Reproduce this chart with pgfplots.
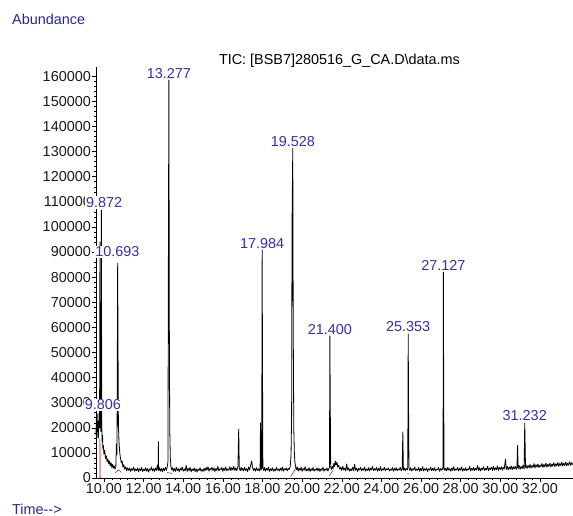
\documentclass[border=0pt]{standalone}
\usepackage{fontspec}
\setmainfont{Liberation Sans}
\usepackage{pgfplots}
\pgfplotsset{compat=1.18}
\definecolor{pk}{RGB}{50,50,165}
\definecolor{ab}{RGB}{40,40,140}
\newcommand{\ff}{\fontsize{14.4}{17}\selectfont}
\begin{document}
\begin{tikzpicture}[x=1pt,y=1pt]
\path[use as bounding box] (0,0) rectangle (573,516);
\node[anchor=west,text=ab,font=\ff,inner sep=0pt] at (12,497) {Abundance};
\node[anchor=west,text=ab,font=\ff,inner sep=0pt] at (12,7) {Time-{}-{}>};
\node[anchor=center,text=black,font=\ff,inner sep=0pt] at (339.5,455) {TIC: [BSB7]280516\_G\_CA.D\textbackslash data.ms};
\begin{axis}[
  at={(96pt,38pt)}, anchor=south west,
  scale only axis, width=477pt, height=411pt,
  xmin=9.6, xmax=33.667, ymin=0, ymax=163700,
  axis lines*=left,
  axis line style={black, line width=0.6pt},
  xtick={10,12,...,32}, minor x tick num=4,
  ytick={0,10000,...,160000}, minor y tick num=4,
  tick align=outside,
  major tick length=4pt, minor tick length=2pt,
  tick style={black, line width=0.5pt},
  scaled y ticks=false,
  yticklabel style={/pgf/number format/.cd, fixed, 1000 sep={}},
  xticklabel style={/pgf/number format/.cd, fixed, fixed zerofill, precision=2},
  /pgf/number format/assume math mode=true,
  ticklabel style={font=\ff, text=black!90, inner sep=1pt},
  clip=false,
]
\addplot[black, line width=0.8pt, line join=round] table {
9.60 17000
9.62 23500
9.64 15500
9.66 25500
9.68 18500
9.70 22500
9.72 16000
9.74 21500
9.76 26000
9.78 20000
9.80 94000
9.82 24000
9.84 18500
9.86 26000
9.872 106700
9.89 21000
9.91 14500
9.93 17000
9.95 11500
9.97 13000
10.00 9500
10.04 11000
10.08 7800
10.12 8800
10.16 6500
10.20 7600
10.24 5600
10.28 6800
10.32 4800
10.36 6100
10.40 4200
10.44 5400
10.48 3900
10.52 4800
10.56 3600
10.60 4400
10.63 13500
10.66 9500
10.693 85600
10.71 55000
10.73 21000
10.76 14500
10.80 10000
10.84 7600
10.88 6000
10.92 6800
10.96 4300
11.00 5300
11.05 3500
11.10 4500
11.15 2800
11.20 4100
11.25 3000
11.30 3900
11.35 2600
11.40 3700
11.45 3100
11.50 4300
11.55 2700
11.60 3600
11.65 2900
11.70 4000
11.75 2500
11.80 3700
11.85 3000
11.90 4200
11.95 2600
12.00 3500
12.05 2900
12.10 4100
12.15 2700
12.20 3800
12.25 2400
12.30 3600
12.35 3100
12.40 4400
12.45 2800
12.50 3700
12.55 2600
12.60 4000
12.65 3000
12.70 5200
12.74 2900
12.75 14500
12.76 3000
12.80 4100
12.85 2700
12.90 3800
12.95 2500
13.00 3900
13.05 2900
13.10 4200
13.15 3100
13.20 4600
13.23 6500
13.25 80000
13.277 158500
13.30 60000
13.32 20000
13.35 8000
13.38 4500
13.42 3300
13.46 4100
13.50 2700
13.55 3800
13.60 2600
13.65 4300
13.70 2900
13.75 3700
13.80 2500
13.85 3900
13.90 3100
13.95 4400
14.00 2700
14.05 3600
14.10 2800
14.15 5000
14.20 2600
14.25 3800
14.30 3000
14.35 4200
14.40 2500
14.45 3600
14.50 2900
14.55 4000
14.60 2600
14.65 3700
14.70 2400
14.75 3500
14.80 3000
14.85 4100
14.90 2700
14.95 3400
15.00 2600
15.05 3900
15.10 2800
15.15 4200
15.20 3100
15.25 4500
15.30 2700
15.35 3800
15.40 3200
15.45 4300
15.50 2900
15.55 4000
15.60 2600
15.65 3800
15.70 3000
15.75 4600
15.80 2800
15.85 3700
15.90 3300
15.95 4200
16.00 2700
16.05 3900
16.10 3000
16.15 4400
16.20 2800
16.25 3600
16.30 3100
16.35 4500
16.40 2900
16.45 4100
16.50 3200
16.55 4600
16.60 3000
16.65 4000
16.70 2900
16.76 4500
16.80 19500
16.83 3800
16.88 2900
16.92 4300
16.96 3100
17.00 3900
17.05 2800
17.10 4200
17.15 3000
17.20 3700
17.25 2600
17.30 4400
17.35 3200
17.40 5000
17.45 6800
17.50 4200
17.55 3000
17.60 3800
17.65 2700
17.70 4100
17.75 3000
17.80 3600
17.85 2800
17.88 4000
17.90 22000
17.93 3300
17.96 3900
17.984 90800
18.00 46000
18.02 4000
18.06 3000
18.10 4200
18.15 2700
18.20 3800
18.25 3100
18.30 4300
18.35 2600
18.40 3700
18.45 3000
18.50 4100
18.55 2700
18.60 3500
18.65 2900
18.70 4200
18.75 3100
18.80 3600
18.85 2800
18.90 3900
18.95 3000
19.00 4400
19.05 2700
19.10 3700
19.15 3200
19.20 4000
19.25 2900
19.30 3800
19.35 3400
19.40 4600
19.44 9000
19.47 25000
19.49 100000
19.528 131400
19.55 61000
19.58 19000
19.61 9500
19.64 6000
19.68 4200
19.72 3300
19.76 4400
19.80 2800
19.85 3900
19.90 3000
19.95 4300
20.00 2700
20.05 3800
20.10 3100
20.15 4500
20.20 2800
20.25 3600
20.30 2900
20.35 4100
20.40 2600
20.45 3700
20.50 3000
20.55 4200
20.60 2700
20.65 3500
20.70 3100
20.75 4000
20.80 2800
20.85 3900
20.90 2600
20.95 3700
21.00 3000
21.05 4300
21.10 2700
21.15 3600
21.20 3100
21.25 4000
21.30 2800
21.35 3700
21.38 4200
21.40 56600
21.42 29000
21.44 4500
21.48 3400
21.52 4600
21.56 3700
21.60 5800
21.64 4600
21.68 6700
21.72 5200
21.76 6200
21.80 4300
21.85 5000
21.90 3500
21.95 4300
22.00 3000
22.05 4600
22.10 3200
22.15 3900
22.20 2800
22.25 5600
22.30 3100
22.35 4000
22.40 2700
22.45 3600
22.50 3000
22.55 4300
22.60 2800
22.65 5400
22.70 3100
22.75 3900
22.80 2600
22.85 3800
22.90 3200
22.95 4200
23.00 2900
23.05 3700
23.10 3100
23.15 4400
23.20 2700
23.25 3600
23.30 3000
23.35 4100
23.40 2800
23.45 3900
23.50 3200
23.55 4600
23.60 2900
23.65 3700
23.70 3100
23.75 4200
23.80 2700
23.85 3800
23.90 3000
23.95 4500
24.00 2800
24.05 3600
24.10 3200
24.15 4300
24.20 2900
24.25 3700
24.30 3300
24.35 4000
24.40 2800
24.45 3500
24.50 3100
24.55 4200
24.60 2700
24.65 3800
24.70 3000
24.75 4100
24.80 2900
24.85 3600
24.90 3200
24.95 4300
25.00 2800
25.05 3900
25.08 18300
25.11 3100
25.16 4000
25.21 2900
25.26 3800
25.31 3300
25.33 4200
25.353 57400
25.37 28000
25.39 4500
25.43 3000
25.48 4100
25.53 2800
25.58 3700
25.63 3200
25.68 4400
25.73 2900
25.78 3600
25.83 3100
25.88 4200
25.93 2700
25.98 3800
26.03 3000
26.08 4500
26.13 2800
26.18 3700
26.23 3100
26.28 4000
26.33 2600
26.38 3600
26.43 3200
26.48 4300
26.53 2900
26.58 3800
26.63 3000
26.68 4100
26.73 2800
26.78 3500
26.83 3300
26.88 4200
26.93 2700
26.98 3700
27.03 3100
27.08 4000
27.11 3300
27.127 82000
27.14 42000
27.16 4200
27.20 3000
27.25 3900
27.30 2800
27.35 4300
27.40 3100
27.45 3700
27.50 2700
27.55 4000
27.60 3000
27.65 4500
27.70 2900
27.75 3600
27.80 3200
27.85 4200
27.90 2800
27.95 3800
28.00 3100
28.05 4400
28.10 2700
28.15 3700
28.20 3000
28.25 4100
28.30 2900
28.35 3600
28.40 3300
28.45 4600
28.50 2800
28.55 3900
28.60 3100
28.65 4200
28.70 2900
28.75 3800
28.80 3200
28.85 5000
28.90 3000
28.95 4100
29.00 2800
29.05 3900
29.10 3300
29.15 4500
29.20 3000
29.25 3800
29.30 3200
29.35 4700
29.40 2900
29.45 4000
29.50 3400
29.55 4300
29.60 3000
29.65 4600
29.70 3100
29.75 4100
29.80 3300
29.85 4800
29.90 3000
29.95 4200
30.00 3400
30.05 4500
30.10 3100
30.15 4300
30.20 3600
30.26 7500
30.30 3400
30.35 4600
30.40 3200
30.45 4400
30.50 3500
30.55 4800
30.60 3300
30.65 4500
30.70 3600
30.75 4700
30.80 3400
30.84 4400
30.87 13000
30.90 3700
30.95 5000
31.00 3500
31.05 4600
31.10 3800
31.15 5100
31.20 3600
31.232 21900
31.25 14000
31.27 4200
31.30 5200
31.35 3800
31.40 5000
31.45 4000
31.50 5400
31.55 3900
31.60 5100
31.65 4200
31.70 5700
31.75 4000
31.80 5300
31.85 4300
31.90 5600
31.95 4100
32.00 5200
32.05 4500
32.10 5800
32.15 4200
32.20 5400
32.25 4400
32.30 6000
32.35 4300
32.40 5500
32.45 4600
32.50 5900
32.55 4400
32.60 5600
32.65 4700
32.70 6100
32.75 4500
32.80 5700
32.85 4800
32.90 6200
32.95 4600
33.00 5800
33.05 4900
33.10 6300
33.15 4700
33.20 5900
33.25 5000
33.30 6400
33.35 4800
33.40 6000
33.45 5100
33.50 6500
33.55 5000
33.60 6100
33.65 5300
};
% integration baselines
\addplot[red!75!black, line width=0.5pt] coordinates {(9.79,0) (9.80,15500) (9.815,0)};
\addplot[red!75!black, line width=0.5pt] coordinates {(10.58,2000) (10.72,3300) (10.88,2200)};
\addplot[red!75!black, line width=0.5pt] coordinates {(13.18,2200) (13.45,1800)};
\addplot[red!75!black, line width=0.5pt] coordinates {(19.42,600) (19.72,4300)};
\addplot[red!75!black, line width=0.5pt] coordinates {(21.36,700) (21.55,3000)};
\addplot[red!75!black, line width=0.5pt] coordinates {(25.32,1800) (25.38,1600)};
\addplot[red!75!black, line width=0.5pt] coordinates {(27.10,1700) (27.16,1500)};
% peak labels
\begin{scope}[every node/.style={font=\ff, text=pk, fill=white, inner sep=1pt, anchor=center}]
\node at (axis cs:10.015,109700) {9.872};
\node at (axis cs:10.68,90100) {10.693};
\node at (axis cs:9.95,29100) {9.806};
\node at (axis cs:13.277,161200) {13.277};
\node at (axis cs:17.984,93500) {17.984};
\node at (axis cs:19.528,134000) {19.528};
\node at (axis cs:21.400,59300) {21.400};
\node at (axis cs:25.353,60300) {25.353};
\node at (axis cs:27.127,84800) {27.127};
\node at (axis cs:31.232,24700) {31.232};
\end{scope}
\end{axis}
\end{tikzpicture}
\end{document}
